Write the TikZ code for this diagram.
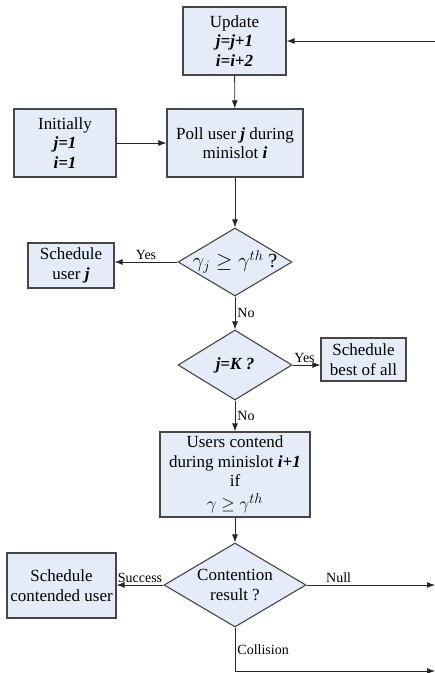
\documentclass[tikz,border=0pt]{standalone}
\usepackage{fontspec}
\setmainfont{Liberation Serif}
\usetikzlibrary{positioning, arrows.meta, shapes.geometric}
\definecolor{boxfill}{RGB}{230,236,247}
\definecolor{boxline}{RGB}{70,70,70}
\newcommand{\stdarrow}{-{Latex[length=8pt,width=6pt]}}
\newcommand{\bi}[1]{\textbf{\textit{#1}}}

\begin{document}
\begin{tikzpicture}[x=1pt, y=-1pt,
        every node/.style={font=\fontsize{17}{19.5}\selectfont},
        block/.style={shape=rectangle, draw=boxline, fill=boxfill, line width=1.1pt, align=center, inner sep=2pt},
        decision/.style={shape=diamond, draw=boxline, fill=boxfill, line width=1.1pt, align=center, inner sep=0pt, aspect=1.69},
        lbl/.style={font=\fontsize{14}{16}\selectfont, inner sep=2pt},
        link/.style={\stdarrow, draw=black!85, line width=0.9pt}]
    \useasboundingbox (0,0) rectangle (435,673);
    \node[block, minimum width=103pt, minimum height=68pt] (update) at (234.5,41) {Update\\ \bi{j=j+1}\\ \bi{i=i+2}};
    \node[block, minimum width=102pt, minimum height=68pt] (init) at (65,143) {Initially\\ \bi{j=1}\\ \bi{i=1}};
    \node[block, minimum width=136pt, minimum height=68pt] (poll) at (235,143) {Poll user \bi{j} during\\ minislot \bi{i}};
    \node[decision, minimum width=114pt, minimum height=68pt] (thr) at (235,262) {\makebox[0pt]{\fontsize{20}{22}\selectfont$\gamma_{j}\geq\gamma^{th}$ ?}};
    \node[block, minimum width=86pt, minimum height=45pt] (schedj) at (71,265.5) {Schedule\\ user \bi{j}};
    \node[decision, minimum width=114pt, minimum height=70pt] (last) at (235,365) {\bi{j=K ?}};
    \node[block, minimum width=85pt, minimum height=43pt] (best) at (363.5,359.5) {Schedule\\ best of all};
    \node[block, minimum width=150pt, minimum height=85pt] (contend) at (235,474.5) {Users contend\\ during minislot \bi{i+1}\\ if\\[3pt] {\fontsize{19}{19}\selectfont$\gamma\geq\gamma^{th}$}};
    \node[decision, minimum width=142pt, minimum height=84pt] (result) at (235,585) {Contention\\ result ?};
    \node[block, minimum width=109pt, minimum height=65pt] (schedc) at (61.5,585.5) {Schedule\\ contended user};
    \coordinate (loopin) at (435,41);
    \coordinate (nullend) at (435,585);
    \coordinate (collbend) at (235,671);
    \coordinate (collend) at (435,671);
    % main chain
    \draw[link] (loopin) -- (update.east);
    \draw[link] (update) -- (poll);
    \draw[link] (init) -- (poll);
    \draw[link] (poll) -- (thr);
    \draw[link] (thr.west) -- (thr.west -| schedj.east) node[lbl, midway, above] {Yes};
    \draw[link] (thr) -- (last) node[lbl, midway, right] {No};
    \draw[link] (last.east) -- (last.east -| best.west) node[lbl, midway, above, xshift=-2pt] {Yes};
    \draw[link] (last) -- (contend) node[lbl, midway, right] {No};
    \draw[link] (contend) -- (result);
    % contention outcomes
    \draw[link] (result.west) -- (result.west -| schedc.east) node[lbl, midway, above] {Success};
    \draw[link] (result.east) -- (nullend) node[lbl, pos=0.25, above] {Null};
    \draw[link] (result.south) -- (collbend) node[lbl, midway, right] {Collision} -- (collend);
\end{tikzpicture}
\end{document}
